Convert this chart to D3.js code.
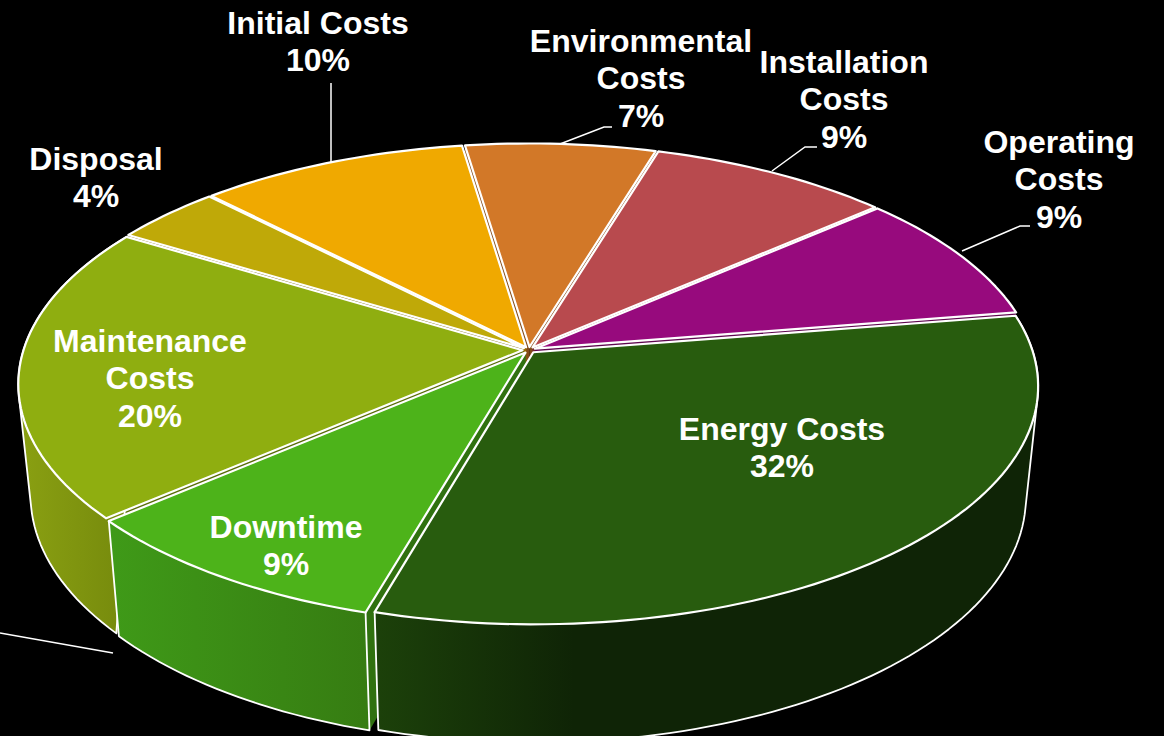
<!DOCTYPE html>
<html>
<head>
<meta charset="utf-8">
<script src="https://cdn.jsdelivr.net/npm/d3@7"></script>
<style>
  html, body { margin: 0; background: #000; overflow: hidden; }
  text { font-family: "Liberation Sans", Arial, sans-serif; font-weight: bold; font-size: 32px; fill: #fff; text-anchor: middle; }
</style>
</head>
<body>
<svg id="chart" width="1164" height="736"></svg>
<script>
// ── Data, clockwise from the right-hand edge of Energy Costs ──
// shares are read off the slice boundaries, labels show them rounded
const categories = ["Energy Costs", "Downtime", "Maintenance Costs", "Disposal", "Initial Costs", "Environmental Costs", "Installation Costs", "Operating Costs"];
const shares     = [32, 9.2, 20.1, 4, 9.9, 7, 8.9, 8.9];
const labelLines = [["Energy Costs"], ["Downtime"], ["Maintenance", "Costs"], ["Disposal"], ["Initial Costs"], ["Environmental", "Costs"], ["Installation", "Costs"], ["Operating", "Costs"]];

// ── Styling ──
const topColors  = ["#285c0e", "#4db31a", "#8fae10", "#bfa908", "#f0a900", "#d27828", "#b84a4e", "#970a7d"];
const wallLeft   = ["#1c410a", "#3f9a18", "#8aa012"];
const wallRight  = ["#0f2406", "#367c12", "#74880c"];
const labelX     = [782, 286, 150, 96, 318, 641, 844, 1059];
const labelY     = [440, 538, 352, 170, 34, 52, 73, 153];
const LINE_H     = 37.3;

const leaders = [
  [[331, 83], [331, 163]],
  [[612, 127], [604, 127], [560, 144]],
  [[817, 147], [805, 147], [772, 171]],
  [[1030, 226], [1020, 226], [962, 251]],
  [[0, 633], [113, 653]],
];

const svg = d3.select("#chart");
const defs = svg.append("defs");

// ── Perspective projection of the disc: the rim is an ellipse, the apex sits above its centre ──
const TILT = 0.141, EXPLODE = 0.013;
const topX = d3.scaleLinear().domain([0, 1]).range([529, 1028]);
const topY = d3.scaleLinear().domain([0, 1]).range([350, 583]);
const botX = d3.scaleLinear().domain([0, 1]).range([529, 1016]);
const botY = d3.scaleLinear().domain([0, 1]).range([460, 700]);

function project(u, v, sx, sy) {
  const w = 1 - TILT * v;
  return [sx(u / w), sy(v / w)];
}

const START = (80.8 * Math.PI) / 180;
const arcs = d3.pie().sort(null).startAngle(START).endAngle(START + 2 * Math.PI)(shares)
  .map((d, i) => {
    const a0 = d.startAngle - Math.PI / 2, a1 = d.endAngle - Math.PI / 2, mid = (a0 + a1) / 2;
    return { i, a0, a1, mid, ox: EXPLODE * Math.cos(mid), oy: EXPLODE * Math.sin(mid) };
  });

function rim(d, sx, sy) {
  const n = Math.ceil((d.a1 - d.a0) * 40);
  return d3.range(n + 1).map(k => {
    const a = d.a0 + (d.a1 - d.a0) * k / n;
    return project(Math.cos(a) + d.ox, Math.sin(a) + d.oy, sx, sy);
  });
}
const apex = (d, sx, sy) => project(d.ox, d.oy, sx, sy);
const poly = pts => d3.line()(pts) + "Z";

// painter's order, far slices first
const order = arcs.slice().sort((a, b) => Math.sin(a.mid) - Math.sin(b.mid));

// Cut faces, only seen in the gaps between slices
const facesG = svg.append("g");
order.forEach(d => {
  const t = rim(d, topX, topY), b = rim(d, botX, botY);
  const at = apex(d, topX, topY), ab = apex(d, botX, botY);
  const face = d3.color(topColors[d.i]).darker(1.3).formatHex();
  [[at, t[0], b[0], ab], [at, t[t.length - 1], b[b.length - 1], ab]].forEach(q => {
    facesG.append("path").attr("d", poly(q)).attr("fill", face);
  });
});

// Outer walls, only the three front slices show one.
// Hull so the silhouette runs straight from the top rim to the bottom rim, the top face hides the rest.
const wallsG = svg.append("g");
order.filter(d => Math.sin(d.mid) > 0).forEach(d => {
  const pts = rim(d, topX, topY).concat(rim(d, botX, botY));
  const xs = pts.map(p => p[0]);
  const id = "wall" + d.i;
  const grad = defs.append("linearGradient").attr("id", id)
    .attr("gradientUnits", "userSpaceOnUse")
    .attr("x1", d3.min(xs)).attr("x2", d3.max(xs)).attr("y1", 0).attr("y2", 0);
  grad.append("stop").attr("offset", 0).attr("stop-color", wallLeft[d.i]);
  grad.append("stop").attr("offset", d.i === 0 ? 0.3 : 1).attr("stop-color", wallRight[d.i]);
  wallsG.append("path").attr("d", poly(d3.polygonHull(pts)))
    .attr("fill", `url(#${id})`)
    .attr("stroke", "#fff").attr("stroke-width", 1.8).attr("stroke-linejoin", "round");
});

// Top faces
const topsG = svg.append("g");
order.forEach(d => {
  topsG.append("path")
    .attr("d", poly([apex(d, topX, topY)].concat(rim(d, topX, topY))))
    .attr("fill", topColors[d.i])
    .attr("stroke", "#fff").attr("stroke-width", 2.2).attr("stroke-linejoin", "round");
});

// Leader lines
svg.append("g").selectAll("path").data(leaders).join("path")
  .attr("d", d => d3.line()(d))
  .attr("fill", "none").attr("stroke", "#fff").attr("stroke-width", 1.5);

// Labels
const labels = svg.append("g").selectAll("text").data(categories).join("text")
  .attr("x", (d, i) => labelX[i])
  .attr("y", (d, i) => labelY[i]);
labels.each(function(d, i) {
  const lines = labelLines[i].concat(Math.round(shares[i]) + "%");
  d3.select(this).selectAll("tspan").data(lines).join("tspan")
    .attr("x", labelX[i])
    .attr("y", (l, k) => labelY[i] + k * LINE_H)
    .text(l => l);
});
</script>
</body>
</html>
